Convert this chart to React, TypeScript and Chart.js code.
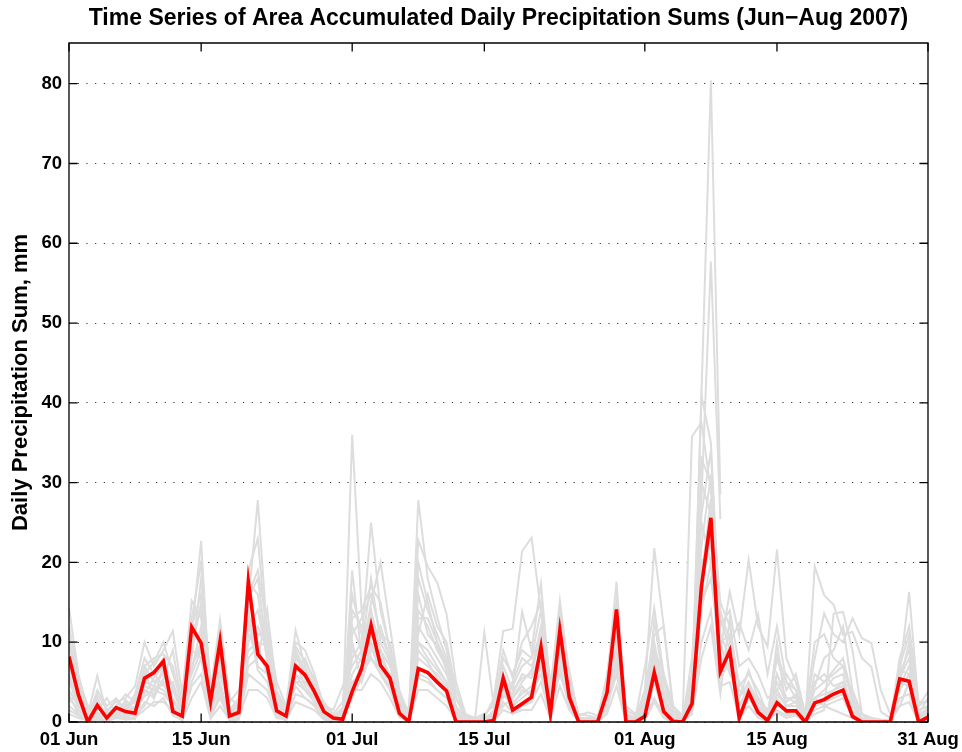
import React, { useEffect, useRef } from "react";
import { Chart, registerables } from "chart.js";

Chart.register(...registerables);

const TITLE = "Time Series of Area Accumulated Daily Precipitation Sums (Jun\u2212Aug 2007)";
const Y_TITLE = "Daily Precipitation Sum, mm";
const X_TICK_DAYS = [0, 14, 30, 44, 61, 75, 91];
const X_TICK_LABELS = ["01 Jun", "15 Jun", "01 Jul", "15 Jul", "01 Aug", "15 Aug", "31 Aug"];
const Y_TICKS = [0, 10, 20, 30, 40, 50, 60, 70, 80];
const Y_MAX = 85.1;
const N_DAYS = 92;

// Area mean (red)
const MEAN = [
  8.2, 3.4, 0, 2.1, 0.5, 1.8, 1.3, 1.1, 5.5, 6.2,
  7.6, 1.3, 0.75, 11.9, 9.9, 2.6, 10.1, 0.75, 1.2, 17.6,
  8.5, 7.0, 1.4, 0.75, 7.0, 5.9, 3.8, 1.3, 0.5, 0.35,
  3.8, 6.7, 12.1, 7.1, 5.5, 1.1, 0.05, 6.7, 6.2, 5.0,
  3.9, 0, 0, 0, 0, 0.2, 5.5, 1.5, 2.3, 3.1,
  9.4, 1.0, 11.5, 3.1, 0, 0, 0, 3.7, 14.1, 0,
  0, 0.7, 6.2, 1.3, 0.1, 0, 2.3, 17.0, 25.6, 6.3,
  8.9, 0.5, 3.7, 1.2, 0.2, 2.4, 1.4, 1.4, 0, 2.4,
  2.8, 3.5, 4.0, 0.7, 0, 0, 0, 0, 5.4, 5.1,
  0, 0.6,
];

const G01 = [
  14.3, 6.0, 1.2, 0.5, 0.8, 2.0, 0.6, 1.5, 3.2, 4.0,
  3.5, 2.1, 0.4, 6.5, 12.0, 1.5, 4.0, 0.6, 1.0, 8.0,
  9.5, 6.0, 2.0, 0.8, 4.5, 3.0, 2.2, 0.6, 0.2, 0.5,
  36.0, 13.8, 8.0, 6.5, 5.0, 1.2, 0.3, 9.0, 7.5, 5.5,
  4.0, 0.8, 0.2, 0, 0, 0.5, 3.5, 2.0, 4.0, 3.5,
  6.0, 1.5, 7.0, 2.0, 0.2, 0, 0, 2.5, 9.0, 0.5,
  0, 1.0, 8.0, 2.0, 0.3, 0, 3.0, 41.0, 80.4, 28.5,
  null, null, null, null, null, null, null, null, null, null,
  null, null, null, null, null, null, null, null, null, null,
  null, null,
];
const G02 = [
  9.5, 4.5, 0.8, 2.5, 1.0, 0.5, 1.8, 2.5, 5.0, 6.0,
  8.0, 4.0, 1.0, 9.0, 15.0, 3.0, 8.0, 1.0, 2.0, 12.0,
  14.0, 8.0, 1.5, 0.5, 6.0, 5.0, 4.0, 1.5, 0.3, 0.2,
  19.0, 8.0, 14.0, 9.0, 5.5, 2.0, 0.5, 14.0, 12.0, 9.0,
  7.0, 1.5, 0, 0, 0.5, 1.0, 6.0, 3.0, 5.0, 6.5,
  12.0, 2.0, 10.0, 4.0, 0.5, 0.3, 0, 4.5, 12.0, 0.5,
  0, 2.0, 9.0, 3.0, 0.5, 0, 5.0, 28.0, 57.7, 25.4,
  null, null, null, null, null, null, null, null, null, null,
  null, null, null, null, null, null, null, null, null, null,
  null, null,
];
const G03 = [
  5.0, 2.5, 0.5, 1.5, 3.0, 1.0, 0.5, 1.2, 4.0, 3.0,
  5.5, 9.0, 2.0, 7.0, 10.0, 1.0, 6.0, 2.0, 0.8, 15.0,
  27.8, 11.0, 3.0, 1.0, 9.0, 6.5, 3.0, 0.8, 0.4, 1.5,
  10.0, 5.0, 9.0, 12.0, 8.0, 3.0, 0.8, 27.8, 18.0, 13.2,
  9.0, 3.0, 0.5, 0, 0.3, 0.8, 4.0, 5.0, 8.0, 7.0,
  10.0, 3.0, 8.0, 5.0, 0.5, 0, 0.2, 3.0, 11.0, 1.0,
  0.2, 1.5, 12.6, 5.0, 1.0, 0.5, 6.0, 33.0, 30.0, 13.0,
  9.0, 5.0, 3.0, 2.0, 0.5, 6.0, 3.0, 2.5, 0.5, 5.0,
  6.0, 4.5, 5.0, 2.0, 0.5, 0.2, 0, 0, 6.0, 9.0,
  1.5, 2.0,
];
const G04 = [
  3.0, 1.5, 0.2, 0.8, 0.5, 1.5, 2.5, 0.5, 7.0, 5.0,
  6.0, 3.0, 0.5, 11.0, 22.7, 2.0, 5.0, 0.5, 1.5, 10.0,
  12.0, 9.0, 2.5, 0.5, 5.0, 4.0, 2.5, 1.0, 0.5, 0.3,
  8.0, 10.0, 25.0, 14.0, 9.0, 2.5, 0.5, 10.0, 9.0, 7.0,
  5.0, 1.0, 0, 0, 0.5, 3.0, 11.4, 11.7, 21.4, 23.1,
  14.0, 2.5, 9.0, 3.0, 0.3, 0, 0, 2.0, 8.0, 0.5,
  0, 1.0, 5.0, 2.0, 0.2, 0, 4.0, 22.0, 31.0, 8.0,
  7.0, 2.0, 4.0, 1.5, 0.5, 8.5, 5.0, 3.0, 0.3, 3.0,
  4.0, 5.5, 6.0, 1.0, 0.2, 0, 0, 0, 4.0, 6.0,
  0.5, 1.0,
];
const G05 = [
  2.0, 1.0, 0, 0.5, 0.2, 0.8, 1.0, 0.8, 2.0, 4.5,
  4.0, 2.0, 0.3, 5.0, 8.0, 0.8, 3.0, 0.3, 0.5, 7.0,
  8.0, 14.0, 4.0, 1.5, 7.0, 5.5, 3.5, 0.5, 0.2, 0.8,
  6.0, 8.0, 15.0, 20.0, 12.0, 4.0, 1.0, 22.8, 19.5, 17.5,
  13.5, 5.0, 1.0, 0.2, 0, 0.5, 2.0, 3.0, 4.5, 3.0,
  7.0, 1.5, 6.0, 2.5, 0, 0, 0, 1.5, 7.0, 0.2,
  0, 4.0, 21.8, 12.0, 1.5, 0.3, 2.0, 15.0, 18.0, 9.0,
  16.3, 10.9, 20.3, 12.0, 9.4, 21.6, 8.0, 5.0, 1.0, 3.0,
  2.0, 1.5, 1.0, 0.5, 0, 0, 0, 0, 2.0, 5.0,
  0.5, 1.5,
];
const G06 = [
  1.0, 0.5, 0.2, 3.5, 1.5, 2.5, 3.0, 4.5, 10.0, 7.0,
  9.0, 11.4, 3.5, 15.2, 13.0, 4.0, 12.8, 3.0, 2.0, 19.0,
  23.0, 10.0, 3.0, 2.0, 11.5, 7.0, 4.5, 2.5, 1.0, 0.5,
  14.0, 12.0, 10.0, 7.0, 6.0, 2.0, 0.6, 12.0, 10.0, 8.0,
  6.0, 2.0, 0.5, 0.2, 11.2, 2.0, 5.0, 4.0, 13.8, 9.0,
  17.3, 4.0, 15.2, 6.0, 0.5, 0.5, 0.3, 5.0, 17.6, 1.0,
  0.5, 6.8, 14.3, 6.0, 1.0, 0.2, 8.0, 25.0, 20.0, 10.0,
  6.0, 4.0, 3.0, 3.0, 1.5, 4.0, 2.0, 2.5, 0, 19.5,
  15.9, 14.7, 10.9, 11.3, 8.0, 6.9, 1.3, 0.5, 6.0, 16.3,
  2.0, 3.8,
];
const G07 = [
  7.0, 3.0, 0.3, 1.0, 0.4, 1.2, 0.9, 2.0, 5.0, 4.5,
  6.5, 1.0, 0.8, 10.0, 11.0, 2.0, 9.0, 1.0, 1.5, 14.0,
  7.0, 6.0, 1.0, 0.5, 8.0, 6.5, 4.5, 1.0, 0.3, 0.5,
  4.5, 7.0, 11.0, 8.0, 6.0, 1.5, 0.2, 8.0, 7.0, 6.0,
  4.5, 0.3, 0, 0, 0, 0.3, 6.0, 2.0, 3.0, 4.0,
  8.5, 1.0, 12.5, 3.5, 0, 0, 0, 4.0, 13.0, 0.2,
  0, 0.5, 5.5, 1.0, 0, 0, 2.5, 18.0, 28.0, 7.0,
  9.5, 0.8, 4.0, 1.5, 0.5, 3.0, 1.0, 1.5, 0.2, 3.0,
  3.5, 4.0, 5.0, 1.0, 0.2, 0, 0, 0, 6.5, 6.0,
  0.3, 1.0,
];
const G08 = [
  4.0, 2.0, 0.5, 4.0, 2.0, 3.0, 1.5, 3.5, 8.0, 6.0,
  4.5, 5.0, 1.5, 8.0, 18.0, 5.0, 7.0, 1.5, 3.0, 16.0,
  19.0, 12.0, 5.0, 2.0, 6.5, 8.0, 5.0, 2.0, 1.0, 2.5,
  12.0, 9.0, 18.0, 10.0, 7.5, 3.0, 1.5, 18.0, 14.0, 11.0,
  8.0, 3.0, 1.0, 0.5, 1.0, 2.0, 8.0, 6.0, 9.0, 8.0,
  14.0, 5.0, 11.0, 4.5, 1.0, 0.8, 0.5, 6.0, 15.0, 2.0,
  1.0, 3.0, 10.0, 4.0, 1.5, 0.2, 35.8, 37.5, 29.0, 15.0,
  12.0, 4.5, 6.0, 4.0, 1.0, 8.0, 4.0, 6.0, 1.0, 4.5,
  8.0, 9.0, 12.0, 4.0, 1.0, 0.5, 0.2, 0, 8.0, 12.0,
  2.5, 2.5,
];
const G09 = [
  10.5, 5.0, 1.5, 2.0, 0.8, 1.0, 2.2, 1.0, 3.5, 5.5,
  7.0, 2.5, 1.2, 12.0, 16.0, 1.5, 11.0, 1.2, 1.0, 17.5,
  16.0, 7.5, 2.0, 1.0, 7.5, 4.5, 3.0, 1.2, 0.6, 1.0,
  16.0, 11.0, 13.0, 9.0, 7.0, 2.5, 0.5, 16.0, 11.0, 9.5,
  6.5, 1.2, 0.3, 0, 0.2, 1.5, 4.5, 3.5, 6.0, 5.5,
  9.0, 2.0, 13.0, 4.0, 0.2, 0.2, 0, 3.5, 10.0, 0.3,
  0, 1.5, 7.0, 2.5, 0.5, 0, 4.0, 40.9, 35.0, 11.0,
  8.0, 3.0, 5.0, 2.5, 1.0, 5.0, 2.5, 3.5, 0.5, 6.0,
  5.0, 6.5, 8.0, 3.0, 0.5, 0.3, 0, 0, 5.0, 10.0,
  1.0, 0.5,
];
const G10 = [
  3.5, 1.0, 0, 0.3, 0.1, 0.5, 0.3, 0.4, 2.5, 2.0,
  3.0, 0.8, 0.2, 4.5, 6.0, 0.5, 3.5, 0.2, 0.3, 6.0,
  5.0, 4.0, 0.8, 0.2, 3.5, 3.0, 2.0, 0.4, 0.1, 0.2,
  5.0, 6.0, 8.0, 6.0, 4.0, 0.8, 0.2, 6.0, 5.5, 4.0,
  3.0, 0.2, 0, 0, 0, 0.2, 2.5, 1.2, 2.0, 2.5,
  5.0, 0.8, 6.5, 2.0, 0, 0, 0, 2.0, 6.0, 0,
  0, 0.3, 3.0, 0.8, 0, 0, 1.5, 10.0, 14.0, 4.5,
  5.0, 0.5, 2.0, 0.8, 0.2, 1.5, 0.8, 1.0, 0, 1.5,
  2.0, 2.5, 3.0, 0.5, 0, 0, 0, 0, 3.0, 3.5,
  0, 0.5,
];
const G11 = [
  6.0, 2.5, 1.0, 5.8, 1.0, 2.0, 3.5, 2.5, 6.0, 7.5,
  10.0, 6.0, 2.5, 6.0, 9.0, 2.5, 6.5, 2.5, 4.0, 9.0,
  10.0, 9.5, 3.5, 1.5, 10.0, 9.0, 6.0, 2.0, 1.5, 4.5,
  7.0, 9.0, 12.0, 11.0, 10.0, 3.5, 1.0, 11.0, 16.0, 12.0,
  10.0, 4.0, 0.8, 0.3, 0.5, 1.0, 3.0, 4.5, 7.0, 8.0,
  11.0, 3.5, 9.0, 5.5, 0.8, 1.2, 0.8, 3.0, 9.0, 1.5,
  0.8, 2.5, 9.0, 6.0, 2.0, 0.8, 5.0, 20.0, 22.0, 12.0,
  14.0, 7.0, 8.0, 6.0, 3.0, 4.0, 6.0, 4.0, 1.0, 8.0,
  13.6, 11.0, 10.0, 13.0, 10.5, 9.9, 4.0, 1.0, 2.0, 5.0,
  1.0, 3.0,
];
const G12 = [
  2.5, 3.5, 0.8, 2.0, 0.3, 1.5, 2.0, 1.0, 4.0, 3.5,
  5.0, 3.0, 0.5, 7.0, 9.5, 1.2, 4.5, 0.8, 2.5, 11.0,
  9.0, 6.5, 1.8, 0.6, 6.0, 4.0, 3.0, 1.0, 0.4, 0.6,
  9.0, 7.5, 10.0, 7.0, 5.0, 1.5, 0.5, 10.0, 8.0, 6.5,
  5.0, 0.6, 0.2, 0, 0.2, 0.5, 4.0, 2.5, 3.5, 4.5,
  7.5, 1.5, 8.0, 3.5, 0.2, 0.2, 0, 3.0, 9.5, 0.3,
  0.2, 1.5, 6.5, 2.0, 0.5, 0.2, 3.5, 16.0, 24.0, 8.0,
  7.0, 2.0, 4.5, 2.0, 0.8, 3.5, 2.0, 2.0, 0.3, 2.5,
  3.0, 4.0, 4.5, 1.5, 0.3, 0, 0, 0, 4.5, 7.0,
  0.8, 1.2,
];
const G13 = [
  8.0, 4.0, 0.5, 1.2, 0.6, 1.5, 1.0, 1.8, 4.5, 4.0,
  5.0, 1.8, 0.6, 9.0, 8.0, 2.2, 8.0, 0.7, 0.8, 12.5,
  6.5, 5.0, 1.2, 0.8, 5.0, 5.0, 3.5, 1.1, 0.5, 0.4,
  3.0, 5.5, 9.5, 6.0, 4.5, 1.0, 0.1, 5.5, 5.0, 4.0,
  3.0, 0.1, 0, 0, 0, 0.1, 4.5, 1.0, 2.0, 2.5,
  7.5, 0.8, 9.0, 2.5, 0, 0, 0, 3.0, 11.0, 0,
  0, 0.5, 5.0, 1.0, 0.1, 0, 2.0, 14.0, 20.0, 5.5,
  7.5, 0.4, 3.0, 1.0, 0.2, 10.0, 1.2, 1.2, 0, 2.0,
  2.5, 3.0, 3.5, 0.5, 0, 0, 0, 0, 5.0, 4.5,
  0, 0.5,
];
const G14 = [
  1.5, 0.8, 0.1, 0.5, 0.2, 0.6, 0.5, 0.6, 1.5, 2.5,
  2.5, 1.5, 0.2, 3.0, 5.0, 0.4, 2.0, 0.3, 0.6, 4.0,
  4.0, 3.0, 0.5, 0.3, 2.5, 2.0, 1.5, 0.3, 0.1, 0.2,
  4.0, 4.0, 6.0, 5.0, 3.0, 0.6, 0.1, 4.0, 4.0, 3.0,
  2.0, 0.2, 0, 0, 0, 0.1, 1.5, 1.0, 1.5, 1.5,
  3.5, 0.5, 4.5, 1.5, 0, 0, 0, 1.0, 4.5, 0,
  0, 0.2, 2.5, 0.5, 0, 0, 1.0, 8.0, 12.0, 3.5,
  13.0, 1.0, 2.0, 0.5, 0.1, 1.2, 0.5, 0.8, 0, 1.0,
  1.5, 13.6, 13.8, 9.0, 1.0, 0, 0, 0, 2.0, 2.5,
  0, 0.3,
];
const G15 = [
  5.5, 1.5, 0.4, 3.0, 0.5, 0.8, 2.8, 1.4, 6.5, 3.0,
  7.0, 4.5, 1.0, 13.0, 20.0, 3.5, 10.0, 1.5, 1.8, 15.5,
  18.0, 9.0, 2.2, 1.2, 9.5, 7.5, 5.5, 1.5, 0.8, 1.2,
  13.0, 14.0, 17.0, 15.0, 9.0, 2.8, 0.8, 20.0, 15.0, 10.0,
  7.5, 1.8, 0.5, 0.1, 0.8, 2.5, 9.0, 5.5, 10.0, 12.0,
  15.0, 3.0, 12.0, 6.5, 0.4, 0.5, 0.3, 5.5, 14.5, 0.8,
  0.3, 4.0, 11.0, 12.0, 2.0, 0.4, 6.0, 30.0, 26.0, 14.0,
  10.0, 12.4, 9.0, 13.5, 6.0, 12.0, 5.0, 4.0, 0.8, 10.0,
  11.0, 8.0, 7.0, 3.5, 1.0, 0.5, 0.3, 0.2, 7.0, 11.0,
  2.0, 2.8,
];
const G16 = [
  12.0, 5.5, 2.0, 1.8, 1.2, 2.8, 1.2, 3.0, 7.0, 8.0,
  8.5, 7.0, 1.5, 11.0, 14.0, 2.8, 9.5, 1.8, 2.2, 13.0,
  11.0, 10.5, 2.5, 1.0, 8.5, 6.0, 4.0, 1.6, 0.7, 1.8,
  11.0, 13.0, 16.0, 11.0, 8.0, 2.0, 0.4, 13.0, 13.0, 10.0,
  7.0, 1.0, 0.1, 0, 0.3, 0.8, 7.0, 4.0, 5.5, 6.0,
  11.0, 2.5, 14.0, 4.5, 0.2, 0.3, 0.1, 4.5, 12.0, 0.6,
  0.1, 2.5, 8.5, 3.5, 0.6, 0.1, 4.5, 26.0, 34.0, 10.0,
  11.0, 3.0, 6.5, 3.0, 0.8, 6.0, 3.0, 3.0, 0.4, 4.0,
  5.0, 6.0, 7.0, 2.5, 0.3, 0.1, 0, 0, 5.5, 8.0,
  0.8, 1.8,
];

const MEMBERS = [G01, G02, G03, G04, G05, G06, G07, G08, G09, G10, G11, G12, G13, G14, G15, G16];

const FONT = "'Liberation Sans', Arial, Helvetica, sans-serif";
const GRAY = "rgb(221,221,221)";
const RED = "#ff0000";

const toPoints = (arr: (number | null)[]) => arr.map((v, i) => ({ x: i, y: v }));

const framePlugin = {
  id: "matlabFrame",
  afterDatasetsDraw(chart: any) {
    const { ctx, chartArea, scales } = chart;
    const { left, right, top, bottom } = chartArea;
    const xs = scales.x;
    const ys = scales.y;
    const tl = 8.6;
    ctx.save();
    ctx.strokeStyle = "#000";
    ctx.lineWidth = 1.3;
    ctx.beginPath();
    ctx.rect(left, top, right - left, bottom - top);
    ctx.stroke();
    ctx.beginPath();
    X_TICK_DAYS.forEach((d) => {
      const px = xs.getPixelForValue(d);
      ctx.moveTo(px, bottom);
      ctx.lineTo(px, bottom - tl);
      ctx.moveTo(px, top);
      ctx.lineTo(px, top + tl);
    });
    Y_TICKS.forEach((v) => {
      const py = ys.getPixelForValue(v);
      ctx.moveTo(left, py);
      ctx.lineTo(left + tl, py);
      ctx.moveTo(right, py);
      ctx.lineTo(right - tl, py);
    });
    ctx.stroke();
    ctx.restore();
  },
};

export default function App() {
  const canvasRef = useRef<HTMLCanvasElement | null>(null);

  useEffect(() => {
    if (!canvasRef.current) return;
    const datasets: any[] = [
      {
        data: toPoints(MEAN),
        borderColor: RED,
        borderWidth: 3.6,
        pointRadius: 0,
        tension: 0,
        spanGaps: false,
      },
      ...MEMBERS.map((m) => ({
        data: toPoints(m),
        borderColor: GRAY,
        borderWidth: 2,
        pointRadius: 0,
        tension: 0,
        spanGaps: false,
      })),
    ];

    const chart = new Chart(canvasRef.current, {
      type: "line",
      data: { datasets },
      options: {
        animation: false,
        responsive: true,
        maintainAspectRatio: false,
        layout: { padding: { left: 0, right: 34, top: 0, bottom: 0 } },
        plugins: {
          legend: { display: false },
          tooltip: { enabled: false },
          title: {
            display: true,
            text: TITLE,
            fullSize: false,
            color: "#000",
            font: { family: FONT, size: 23, weight: "bold" },
            padding: { top: 5, bottom: 10.4 },
          },
        },
        scales: {
          x: {
            type: "linear",
            min: 0,
            max: N_DAYS - 1,
            afterBuildTicks: (scale: any) => {
              scale.ticks = X_TICK_DAYS.map((d) => ({ value: d }));
            },
            afterFit: (scale: any) => {
              scale.height = 30;
              scale.paddingLeft = 0;
              scale.paddingRight = 0;
            },
            ticks: {
              autoSkip: false,
              maxRotation: 0,
              minRotation: 0,
              padding: 7,
              color: "#000",
              font: { family: FONT, size: 18.5, weight: "bold" },
              callback: (value: any) => {
                const idx = X_TICK_DAYS.indexOf(Number(value));
                return idx >= 0 ? X_TICK_LABELS[idx] : "";
              },
            },
            grid: { display: false, drawTicks: false },
            border: { display: false },
          },
          y: {
            type: "linear",
            min: 0,
            max: Y_MAX,
            afterBuildTicks: (scale: any) => {
              scale.ticks = Y_TICKS.map((v) => ({ value: v }));
            },
            afterFit: (scale: any) => {
              scale.width = 69;
            },
            ticks: {
              padding: 7,
              color: "#000",
              font: { family: FONT, size: 18.5, weight: "bold" },
            },
            grid: {
              drawTicks: false,
              color: "#333",
              lineWidth: 1,
            },
            border: { display: false, dash: [1.2, 7.5] },
            title: {
              display: true,
              text: Y_TITLE,
              color: "#000",
              font: { family: FONT, size: 22, weight: "bold" },
              padding: { top: 8, bottom: 0 },
            },
          },
        },
      },
      plugins: [framePlugin],
    });

    return () => chart.destroy();
  }, []);

  return (
    <div style={{ position: "absolute", left: 0, top: 0, width: 962, height: 752, background: "#fff" }}>
      <canvas ref={canvasRef} />
    </div>
  );
}
